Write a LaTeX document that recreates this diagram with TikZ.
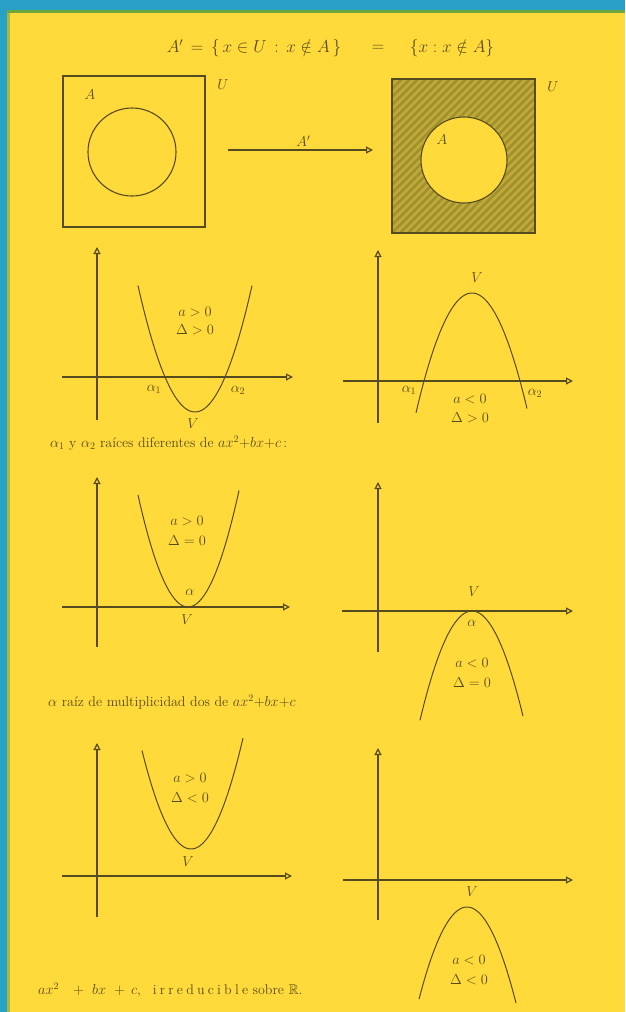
\documentclass[tikz,border=0pt]{standalone}
\usepackage{amsmath,amssymb}
\usetikzlibrary{arrows.meta}
\definecolor{bg}{RGB}{255,218,58}
\definecolor{edgeblue}{RGB}{40,160,200}
\definecolor{ink}{RGB}{85,75,30}
\definecolor{hatchbase}{RGB}{192,170,58}
\definecolor{hatchline}{RGB}{160,145,45}
\definecolor{topgreen}{RGB}{110,165,60}
\newcommand{\lsp}{\kern3.2pt}
\begin{document}
\begin{tikzpicture}[x=1pt,y=-1pt,
  axis/.style={draw=ink, line width=1.2pt, -{Triangle[open,length=7pt,width=7pt]}},
  curve/.style={draw=ink, line width=1pt},
  lbl/.style={text=ink, font=\fontsize{14}{16}\selectfont, inner sep=1pt},
  ttl/.style={text=ink, font=\fontsize{18}{20}\selectfont, inner sep=1pt},
  captxt/.style={text=ink, font=\fontsize{14}{16}\selectfont, anchor=west, inner sep=0pt},
  boxu/.style={draw=ink, line width=1.3pt, inner sep=0pt}]
\useasboundingbox (0,0) rectangle (625,1012);
\fill[bg] (0,0) rectangle (625,1012);
\fill[edgeblue] (0,0) rectangle (625,10);
\fill[edgeblue] (0,0) rectangle (7,1012);
\fill[topgreen] (7,10) rectangle (625,13);
\fill[topgreen!60!bg] (7,13) rectangle (10,1012);

% title
\node[ttl] (t1) at (254,48) {$A'\,=\,\{\,x \in U\,:\,x \notin A\,\}$};
\node[ttl] (teq) at (378,48) {$=$};
\node[ttl] (t2) at (452,48) {$\{x : x \notin A\}$};

% left Venn
\node[boxu, minimum width=142pt, minimum height=151pt] (U1) at (134,151.5) {};
\node[draw=ink, circle, line width=1.1pt, minimum size=88pt, inner sep=0pt] (A1) at (132,152) {};
\node[lbl] (A1l) at (90,95) {$A$};
\node[lbl] (U1l) at (223,85) {$U$};

% arrow
\coordinate (arS) at (228,150);
\coordinate (arE) at (373,150);
\draw[axis] (arS) -- (arE) node[lbl, pos=0.52, above=2pt] (compl) {$A'$};

% right Venn (hatched complement)
\fill[hatchbase] (392,79) rectangle (535,233);
\begin{scope}
  \clip (392,79) rectangle (535,233);
  \foreach \i in {-160,-152,...,150}
    \draw[hatchline, line width=2.8pt] (392+\i,233) -- ++(154,-154);
\end{scope}
\fill[bg] (464,160) circle[radius=43pt];
\node[draw=ink, circle, line width=1.1pt, minimum size=86pt, inner sep=0pt] (A2) at (464,160) {};
\node[boxu, line width=1.5pt, minimum width=143pt, minimum height=154pt] (U2) at (463.5,156) {};
\node[lbl] (A2l) at (442,140) {$A$};
\node[lbl] (U2l) at (553,87) {$U$};

% ---------- graph 1 ----------
\coordinate (g1xs) at (62,377); \coordinate (g1xe) at (293,377);
\coordinate (g1ys) at (97,420); \coordinate (g1ye) at (97,247);
\draw[axis] (g1xs) -- (g1xe);
\draw[axis] (g1ys) -- (g1ye);
\draw[curve] plot[domain=138:252, samples=60] (\x,{412-0.0389*(\x-195)^2});
\node[lbl] (g1a) at (195,312) {$a>0$};
\node[lbl] (g1d) at (195,330) {$\Delta>0$};
\node[lbl] (g1r1) at (154,389) {$\alpha_1$};
\node[lbl] (g1r2) at (238,390) {$\alpha_2$};
\node[lbl] (g1v) at (193,424) {$V$};
\node[captxt] (cap1) at (50,443) {$\alpha_1$ y $\alpha_2$ raíces diferentes de $ax^2{+}bx{+}c$\,:};

% ---------- graph 2 ----------
\coordinate (g2xs) at (343,381); \coordinate (g2xe) at (573,381);
\coordinate (g2ys) at (378,423); \coordinate (g2ye) at (378,250);
\draw[axis] (g2xs) -- (g2xe);
\draw[axis] (g2ys) -- (g2ye);
\draw[curve] plot[domain=416:527, samples=60] (\x,{293+0.0382*(\x-472)^2});
\node[lbl] (g2v) at (477,278) {$V$};
\node[lbl] (g2r1) at (409,390) {$\alpha_1$};
\node[lbl] (g2r2) at (535,393) {$\alpha_2$};
\node[lbl] (g2a) at (470,399) {$a<0$};
\node[lbl] (g2d) at (470,418) {$\Delta>0$};

% ---------- graph 3 ----------
\coordinate (g3xs) at (62,607); \coordinate (g3xe) at (290,607);
\coordinate (g3ys) at (97,647); \coordinate (g3ye) at (97,477);
\draw[axis] (g3xs) -- (g3xe);
\draw[axis] (g3ys) -- (g3ye);
\draw[curve] plot[domain=138:239, samples=60] (\x,{607-0.0448*(\x-188)^2});
\node[lbl] (g3a) at (187,521) {$a>0$};
\node[lbl] (g3d) at (187,541) {$\Delta=0$};
\node[lbl] (g3r) at (190,592) {$\alpha$};
\node[lbl] (g3v) at (187,620) {$V$};
\node[captxt] (cap2) at (48,702) {$\alpha$ raíz de multiplicidad dos de $ax^2{+}bx{+}c$};

% ---------- graph 4 ----------
\coordinate (g4xs) at (342,611); \coordinate (g4xe) at (573,611);
\coordinate (g4ys) at (378,652); \coordinate (g4ye) at (378,482);
\draw[axis] (g4xs) -- (g4xe);
\draw[axis] (g4ys) -- (g4ye);
\draw[curve] plot[domain=420:523, samples=60] (\x,{611+0.0404*(\x-472)^2});
\node[lbl] (g4v) at (474,592) {$V$};
\node[lbl] (g4r) at (472,623) {$\alpha$};
\node[lbl] (g4a) at (472,663) {$a<0$};
\node[lbl] (g4d) at (472,683) {$\Delta=0$};

% ---------- graph 5 ----------
\coordinate (g5xs) at (62,876); \coordinate (g5xe) at (292,876);
\coordinate (g5ys) at (97,917); \coordinate (g5ye) at (97,743);
\draw[axis] (g5xs) -- (g5xe);
\draw[axis] (g5ys) -- (g5ye);
\draw[curve] plot[domain=142:243, samples=60] (\x,{849-0.041*(\x-191)^2});
\node[lbl] (g5a) at (190,778) {$a>0$};
\node[lbl] (g5d) at (190,798) {$\Delta<0$};
\node[lbl] (g5v) at (188,862) {$V$};
\node[captxt] (cap3) at (38,990) {$ax^2$\hspace{14pt}$+$\hspace{8pt}$bx$\hspace{8pt}$+$\hspace{6pt}$c$,\hspace{12pt}i\lsp r\lsp r\lsp e\lsp d\lsp u\lsp c\lsp i\lsp b\lsp l\lsp e sobre $\mathbb{R}$.};

% ---------- graph 6 ----------
\coordinate (g6xs) at (343,880); \coordinate (g6xe) at (573,880);
\coordinate (g6ys) at (378,920); \coordinate (g6ye) at (378,748);
\draw[axis] (g6xs) -- (g6xe);
\draw[axis] (g6ys) -- (g6ye);
\draw[curve] plot[domain=419:516, samples=60] (\x,{907+0.04*(\x-467)^2});
\node[lbl] (g6v) at (472,892) {$V$};
\node[lbl] (g6a) at (469,960) {$a<0$};
\node[lbl] (g6d) at (469,980) {$\Delta<0$};
\end{tikzpicture}
\end{document}
